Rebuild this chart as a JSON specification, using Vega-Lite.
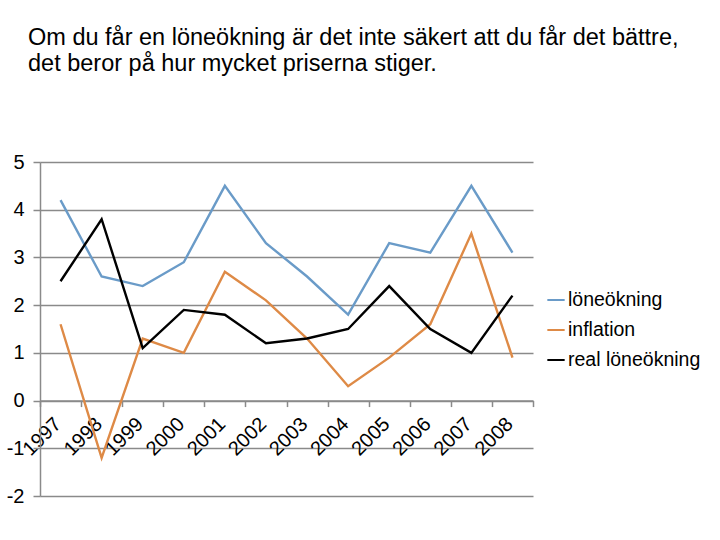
{
  "$schema": "https://vega.github.io/schema/vega-lite/v6.json",
  "width": 493,
  "height": 334,
  "autosize": "none",
  "padding": {"left": 40, "top": 162, "right": 187, "bottom": 44},
  "background": "white",
  "title": {
    "text": ["Om du får en löneökning är det inte säkert att du får det bättre,", "det beror på hur mycket priserna stiger."],
    "anchor": "start",
    "frame": "group",
    "font": "Liberation Sans",
    "fontSize": 23.5,
    "fontWeight": "normal",
    "color": "black",
    "lineHeight": 26,
    "dx": -12,
    "offset": 77
  },
  "data": {
    "values": [
      {"year": "1997", "series": "löneökning", "value": 4.2},
      {"year": "1998", "series": "löneökning", "value": 2.6},
      {"year": "1999", "series": "löneökning", "value": 2.4},
      {"year": "2000", "series": "löneökning", "value": 2.9},
      {"year": "2001", "series": "löneökning", "value": 4.5},
      {"year": "2002", "series": "löneökning", "value": 3.3},
      {"year": "2003", "series": "löneökning", "value": 2.6},
      {"year": "2004", "series": "löneökning", "value": 1.8},
      {"year": "2005", "series": "löneökning", "value": 3.3},
      {"year": "2006", "series": "löneökning", "value": 3.1},
      {"year": "2007", "series": "löneökning", "value": 4.5},
      {"year": "2008", "series": "löneökning", "value": 3.1},
      {"year": "1997", "series": "inflation", "value": 1.6},
      {"year": "1998", "series": "inflation", "value": -1.2},
      {"year": "1999", "series": "inflation", "value": 1.3},
      {"year": "2000", "series": "inflation", "value": 1.0},
      {"year": "2001", "series": "inflation", "value": 2.7},
      {"year": "2002", "series": "inflation", "value": 2.1},
      {"year": "2003", "series": "inflation", "value": 1.3},
      {"year": "2004", "series": "inflation", "value": 0.3},
      {"year": "2005", "series": "inflation", "value": 0.9},
      {"year": "2006", "series": "inflation", "value": 1.6},
      {"year": "2007", "series": "inflation", "value": 3.5},
      {"year": "2008", "series": "inflation", "value": 0.9},
      {"year": "1997", "series": "real löneökning", "value": 2.5},
      {"year": "1998", "series": "real löneökning", "value": 3.8},
      {"year": "1999", "series": "real löneökning", "value": 1.1},
      {"year": "2000", "series": "real löneökning", "value": 1.9},
      {"year": "2001", "series": "real löneökning", "value": 1.8},
      {"year": "2002", "series": "real löneökning", "value": 1.2},
      {"year": "2003", "series": "real löneökning", "value": 1.3},
      {"year": "2004", "series": "real löneökning", "value": 1.5},
      {"year": "2005", "series": "real löneökning", "value": 2.4},
      {"year": "2006", "series": "real löneökning", "value": 1.5},
      {"year": "2007", "series": "real löneökning", "value": 1.0},
      {"year": "2008", "series": "real löneökning", "value": 2.2}
    ]
  },
  "mark": {"type": "line", "strokeWidth": 2.4, "strokeJoin": "miter"},
  "encoding": {
    "x": {
      "field": "year",
      "type": "ordinal",
      "bandPosition": 0.5,
      "scale": {"type": "band", "paddingInner": 0, "paddingOuter": 0},
      "axis": {
        "title": null,
        "offset": -95.43,
        "labelAngle": -45,
        "labelAlign": "right",
        "labelBaseline": "middle",
        "labelPadding": 14,
        "labelOffset": -3,
        "labelFont": "Liberation Sans",
        "labelFontSize": 20,
        "labelColor": "black",
        "tickBand": "extent",
        "tickSize": 6,
        "tickColor": "#8a8a8a",
        "tickWidth": 1.5,
        "domainColor": "#8a8a8a",
        "domainWidth": 1.5,
        "grid": false
      }
    },
    "y": {
      "field": "value",
      "type": "quantitative",
      "scale": {"domain": [-2, 5], "nice": false, "zero": false},
      "axis": {
        "title": null,
        "values": [-2, -1, 0, 1, 2, 3, 4, 5],
        "labelExpr": "'' + datum.value",
        "labelFont": "Liberation Sans",
        "labelFontSize": 20,
        "labelColor": "black",
        "labelPadding": 9,
        "tickSize": 7,
        "tickColor": "#8a8a8a",
        "tickWidth": 1.5,
        "domainColor": "#8a8a8a",
        "domainWidth": 1.5,
        "grid": true,
        "gridColor": "#8a8a8a",
        "gridWidth": 1.5
      }
    },
    "color": {
      "field": "series",
      "type": "nominal",
      "scale": {
        "domain": ["löneökning", "inflation", "real löneökning"],
        "range": ["#6a9bc8", "#de8a46", "#000000"]
      },
      "legend": {
        "title": null,
        "orient": "none",
        "legendX": 506,
        "legendY": 128,
        "symbolType": "stroke",
        "symbolSize": 300,
        "symbolStrokeWidth": 2,
        "labelFont": "Liberation Sans",
        "labelFontSize": 19.5,
        "labelColor": "black",
        "labelOffset": 2,
        "rowPadding": 10
      }
    }
  },
  "config": {
    "view": {"stroke": null}
  }
}
